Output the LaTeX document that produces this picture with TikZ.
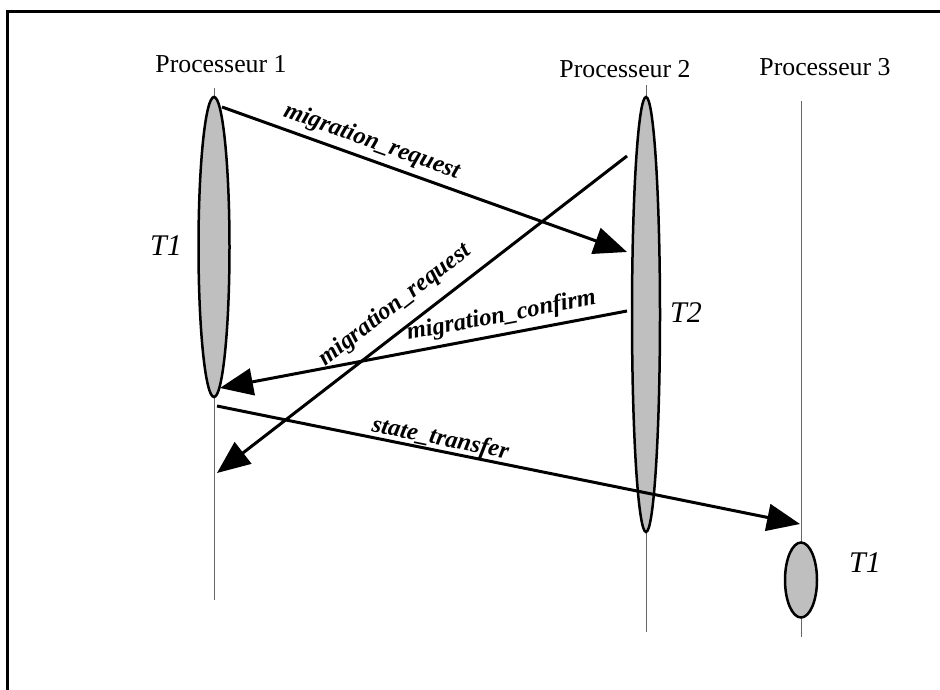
\documentclass[tikz,border=0pt]{standalone}
\usepackage{fontspec}
\setmainfont{Liberation Serif}
\usetikzlibrary{shapes.geometric,arrows.meta}

\begin{document}
\begin{tikzpicture}[x=1pt, y=-1pt,
    lifeline/.style={draw=black!60, line width=1pt},
    task/.style={ellipse, draw, line width=2.5pt, fill=gray!50, inner sep=0pt},
    msg/.style={line width=3pt, -{Triangle[length=33pt, width=27pt]}},
    lbl/.style={sloped, inner sep=0pt, font=\fontsize{24.5}{25}\selectfont\bfseries\itshape},
    proc/.style={anchor=base, font=\fontsize{25.8}{26}\selectfont},
    tname/.style={anchor=base, font=\fontsize{30}{30}\selectfont\itshape}]
  \useasboundingbox (0,0) rectangle (940,689);
  % frame (cut at the bottom and on the right)
  \draw[line width=3pt] (7,700) -- (7,11) -- (950,11);

  % processors
  \node[proc] (proc1) at (221,72) {Processeur 1};
  \node[proc] (proc2) at (625,77) {Processeur 2};
  \node[proc] (proc3) at (825,75) {Processeur 3};

  \coordinate (top1) at (214,88);   \coordinate (bot1) at (214,600);
  \coordinate (top2) at (646,85);   \coordinate (bot2) at (646,632);
  \coordinate (top3) at (801,101);  \coordinate (bot3) at (801,637);
  \draw[lifeline] (top1) -- (bot1);
  \draw[lifeline] (top2) -- (bot2);
  \draw[lifeline] (top3) -- (bot3);

  % tasks
  \node[task, minimum width=31, minimum height=300] (task1) at (214,247) {};
  \node[task, minimum width=28, minimum height=435] (task2) at (646,314.5) {};
  \node[task, minimum width=32, minimum height=75] (task3) at (801,580) {};
  \node[tname] (name1) at (166,255) {T1};
  \node[tname] (name2) at (686,322) {T2};
  \node[tname] (name3) at (865,572) {T1};

  % message end points
  \coordinate (req1s) at (222,107);  \coordinate (req1e) at (627,252);
  \coordinate (req2s) at (627,156);  \coordinate (req2e) at (217,473);
  \coordinate (confs) at (627,311);  \coordinate (confe) at (220,388);
  \coordinate (stats) at (217,406);  \coordinate (state) at (800,524);

  % messages
  \draw[msg] (req1s) -- node[lbl, pos=0.355, above=5pt] {migration\_request} (req1e);
  \draw[msg] (req2s) -- node[lbl, pos=0.53, above=11pt] {migration\_request} (req2e);
  \draw[msg] (confs) -- node[lbl, pos=0.3, above=5.5pt] {migration\_confirm} (confe);
  \draw[msg] (stats) -- node[lbl, pos=0.379, above=-1pt] {state\_transfer} (state);
\end{tikzpicture}
\end{document}
